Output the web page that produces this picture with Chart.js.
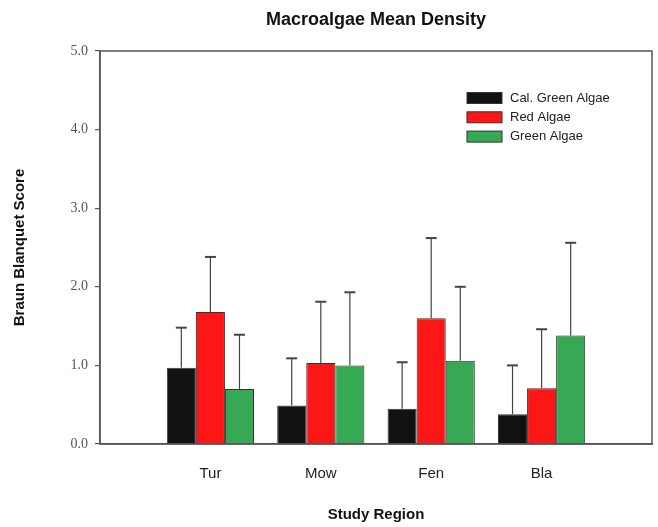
<!DOCTYPE html>
<html>
<head>
<meta charset="utf-8">
<script src="https://cdn.jsdelivr.net/npm/chart.js@4"></script>
<style>
  body { margin: 0; background: #fff; }
</style>
</head>
<body>
<canvas id="chart" width="658" height="527"></canvas>
<script>
// ====== DATA ======
const regions = ["Tur", "Mow", "Fen", "Bla"];
const seriesNames = ["Cal. Green Algae", "Red Algae", "Green Algae"];

const calGreen = [0.97, 0.49, 0.45, 0.38];
const calGreenErr = [0.51, 0.60, 0.59, 0.62];

const redAlgae = [1.68, 1.03, 1.60, 0.71];
const redAlgaeErr = [0.70, 0.78, 1.02, 0.75];

const greenAlgae = [0.70, 1.00, 1.06, 1.38];
const greenAlgaeErr = [0.69, 0.93, 0.94, 1.18];

const yTicks = [0, 1, 2, 3, 4, 5];

const colors = ["#111111", "#fc1616", "#37a954"];

// bars sit on a linear x axis at 1..n so the group spacing matches the original
const toPoints = (vals) => vals.map((v, i) => ({ x: i + 1, y: v }));

// ====== ERROR BARS (upper only) ======
const errorBars = {
  id: "errorBars",
  afterDatasetsDraw(chart) {
    const ctx = chart.ctx;
    const y = chart.scales.y;
    ctx.save();
    ctx.strokeStyle = "#444";
    chart.data.datasets.forEach((ds, di) => {
      const meta = chart.getDatasetMeta(di);
      meta.data.forEach((bar, i) => {
        const top = y.getPixelForValue(ds.data[i].y + ds.errors[i]);
        ctx.lineWidth = 1.2;
        ctx.beginPath();
        ctx.moveTo(bar.x, bar.y);
        ctx.lineTo(bar.x, top);
        ctx.stroke();
        ctx.lineWidth = 2;
        ctx.beginPath();
        ctx.moveTo(bar.x - 5.5, top);
        ctx.lineTo(bar.x + 5.5, top);
        ctx.stroke();
      });
    });
    ctx.restore();
  },
};

// ====== FRAME + LEGEND ======
const frameAndLegend = {
  id: "frameAndLegend",
  afterDraw(chart) {
    const { ctx, chartArea } = chart;
    ctx.save();
    ctx.strokeStyle = "#555";
    ctx.lineWidth = 1.5;
    ctx.strokeRect(chartArea.left, chartArea.top, chartArea.right - chartArea.left, chartArea.bottom - chartArea.top);

    ctx.font = "13px 'Liberation Sans', Arial, sans-serif";
    ctx.textBaseline = "middle";
    chart.data.datasets.forEach((ds, i) => {
      const cy = 98 + i * 19.3;
      ctx.fillStyle = ds.backgroundColor;
      ctx.fillRect(467, cy - 5.5, 35, 11);
      ctx.strokeStyle = "#333";
      ctx.lineWidth = 1;
      ctx.strokeRect(467, cy - 5.5, 35, 11);
      ctx.fillStyle = "#222";
      ctx.fillText(ds.label, 510, cy);
    });
    ctx.restore();
  },
};

const seriesValues = [calGreen, redAlgae, greenAlgae];
const seriesErrors = [calGreenErr, redAlgaeErr, greenAlgaeErr];

new Chart(document.getElementById("chart"), {
  type: "bar",
  data: {
    datasets: seriesNames.map((name, i) => ({
      label: name,
      data: toPoints(seriesValues[i]),
      errors: seriesErrors[i],
      backgroundColor: colors[i],
      borderColor: "#333",
      borderWidth: 1,
      barPercentage: 1,
      categoryPercentage: 0.79,
    })),
  },
  options: {
    responsive: false,
    animation: false,
    devicePixelRatio: 1,
    layout: { padding: { left: 0, right: 6, top: 0, bottom: 0 } },
    plugins: {
      legend: { display: false },
      tooltip: { enabled: false },
      title: {
        display: true,
        fullSize: false,
        text: "Macroalgae Mean Density",
        color: "#111",
        font: { family: "'Liberation Sans', Arial, sans-serif", size: 18, weight: "bold" },
        padding: { top: 9, bottom: 20.4 },
      },
    },
    scales: {
      x: {
        type: "linear",
        min: 0,
        max: 5,
        offset: false,
        grid: { display: false, drawTicks: false },
        border: { display: true, color: "#555", width: 1.5 },
        ticks: {
          stepSize: 1,
          includeBounds: false,
          padding: 21,
          color: "#222",
          font: { family: "'Liberation Sans', Arial, sans-serif", size: 15 },
          callback: (v) => regions[v - 1] || "",
        },
        title: {
          display: true,
          text: "Study Region",
          color: "#111",
          font: { family: "'Liberation Sans', Arial, sans-serif", size: 15, weight: "bold" },
          padding: { top: 0, bottom: 3 },
        },
        afterFit: (scale) => {
          scale.height = 83;
          scale.paddingLeft = 0;
          scale.paddingRight = 0;
        },
      },
      y: {
        min: yTicks[0],
        max: yTicks[yTicks.length - 1],
        grid: { drawOnChartArea: false, drawTicks: true, tickLength: 5, color: "#555", lineWidth: 1.2 },
        border: { display: true, color: "#555", width: 1.5 },
        afterBuildTicks: (scale) => { scale.ticks = yTicks.map((v) => ({ value: v })); },
        ticks: {
          padding: 7,
          color: "#555",
          font: { family: "'Liberation Serif', 'Times New Roman', serif", size: 14 },
          callback: (v) => v.toFixed(1),
        },
        title: {
          display: true,
          text: "Braun Blanquet Score",
          color: "#111",
          font: { family: "'Liberation Sans', Arial, sans-serif", size: 15, weight: "bold" },
          padding: { top: 11, bottom: 0 },
        },
        afterFit: (scale) => { scale.width = 100; },
      },
    },
  },
  plugins: [errorBars, frameAndLegend],
});
</script>
</body>
</html>
